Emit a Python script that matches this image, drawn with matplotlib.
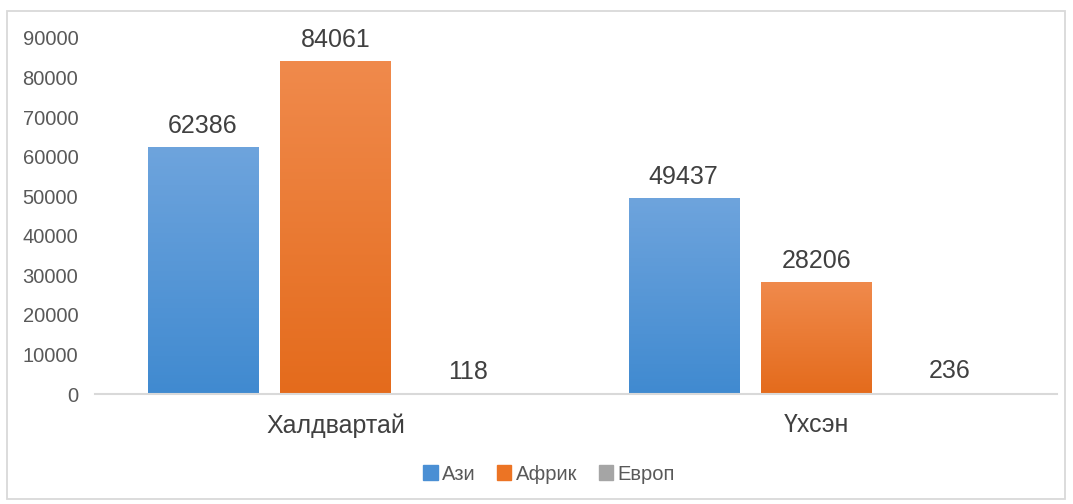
import matplotlib
matplotlib.use("Agg")
import matplotlib.pyplot as plt
import numpy as np
from matplotlib.patches import Rectangle
from matplotlib.colors import LinearSegmentedColormap

categories = ["Халдвартай", "Үхсэн"]
series_names = ["Ази", "Африк", "Европ"]
asia = [62386, 49437]
africa = [84061, 28206]
europe = [118, 236]
yticks = [0, 10000, 20000, 30000, 40000, 50000, 60000, 70000, 80000, 90000]

plt.rcParams['font.family'] = ['Liberation Sans', 'DejaVu Sans']

W, H = 1073, 504
fig = plt.figure(figsize=(W / 100, H / 100), dpi=100)
# outer border
fig.patches.append(Rectangle((7 / W, 1 - 499 / H), (1065 - 7) / W, (499 - 11) / H,
                             transform=fig.transFigure, fill=False,
                             edgecolor="#d9d9d9", linewidth=1.3))

ax = fig.add_axes([95 / W, 1 - 394 / H, (1057 - 95) / W, (394 - 38) / H])
ax.set_xlim(-0.5, 1.5)
ax.set_ylim(0, 90000)

x = np.arange(len(categories))
width = 0.229
offset = 0.276
series = [asia, africa, europe]
solid = ["#4a8fd4", "#ec7424", "#a5a5a5"]
grads = [("#408ad0", "#6ea4dd"), ("#e46b1c", "#f08a4c"), ("#999999", "#b5b5b5")]

for i, (vals, col, (c0, c1)) in enumerate(zip(series, solid, grads)):
    bars = ax.bar(x + (i - 1) * offset, vals, width, color=col, label=series_names[i], zorder=2)
    cmap = LinearSegmentedColormap.from_list("g%d" % i, [c0, c1])
    for b, v in zip(bars, vals):
        bx, bw, bh = b.get_x(), b.get_width(), b.get_height()
        grad = np.linspace(0, 1, 256).reshape(-1, 1)
        im = ax.imshow(grad, extent=[bx, bx + bw, 0, bh], origin="lower",
                       cmap=cmap, aspect="auto", zorder=2.5)
        im.set_clip_path(b)
        ax.annotate(f"{v}", (bx + bw / 2, bh), xytext=(0, 7), textcoords="offset points",
                    ha="center", va="bottom", fontsize=18, color="#404040")

ax.set_xlim(-0.5, 1.5)
ax.set_ylim(0, 90000)
ax.set_yticks(yticks)
ax.set_yticklabels([str(t) for t in yticks], fontsize=14.5, color="#595959")
ax.set_xticks(x)
ax.set_xticklabels(categories, fontsize=18, color="#404040")
ax.tick_params(axis="both", length=0)
ax.tick_params(axis="y", pad=12)
ax.tick_params(axis="x", pad=14)
for s in ["top", "right", "left"]:
    ax.spines[s].set_visible(False)
ax.spines["bottom"].set_color("#d9d9d9")
ax.spines["bottom"].set_linewidth(1.5)
ax.spines["bottom"].set_zorder(3)

handles = [Rectangle((0, 0), 1, 1, color=c) for c in solid]
fig.legend(handles, series_names, loc="center", bbox_to_anchor=(549 / W, 1 - 474 / H),
           ncol=3, frameon=False, fontsize=14.5, labelcolor="#595959",
           handlelength=0.7, handleheight=0.7, handletextpad=0.2, columnspacing=1.1)

fig.savefig("out.png", dpi=100)
